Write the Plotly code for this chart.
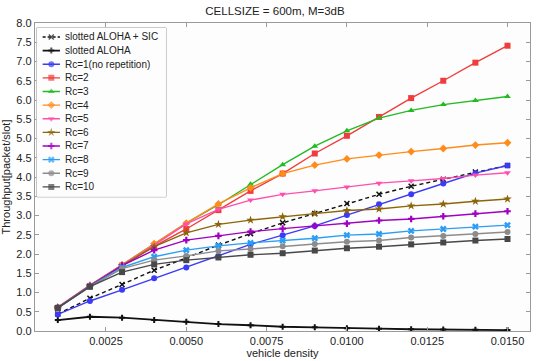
import plotly.graph_objects as go

density = [0.001, 0.002, 0.003, 0.004, 0.005, 0.006, 0.007, 0.008,
           0.009, 0.010, 0.011, 0.012, 0.013, 0.014, 0.015]

sic   = [0.44, 0.85, 1.21, 1.58, 1.90, 2.23, 2.53, 2.81, 3.05, 3.31, 3.55, 3.76, 3.94, 4.13, 4.30]
aloha = [0.285, 0.37, 0.345, 0.285, 0.24, 0.18, 0.15, 0.11, 0.095, 0.07, 0.06, 0.045, 0.04, 0.03, 0.025]
rc1   = [0.43, 0.78, 1.07, 1.37, 1.65, 1.95, 2.25, 2.49, 2.73, 3.01, 3.29, 3.55, 3.83, 4.10, 4.30]
rc2   = [0.60, 1.17, 1.70, 2.20, 2.65, 3.14, 3.64, 4.09, 4.61, 5.07, 5.56, 6.05, 6.50, 6.97, 7.41]
rc3   = [0.61, 1.18, 1.72, 2.25, 2.80, 3.28, 3.81, 4.32, 4.80, 5.20, 5.53, 5.73, 5.88, 5.99, 6.09]
rc4   = [0.61, 1.18, 1.72, 2.27, 2.80, 3.30, 3.72, 4.09, 4.31, 4.47, 4.57, 4.66, 4.74, 4.83, 4.89]
rc5   = [0.62, 1.19, 1.71, 2.23, 2.78, 3.16, 3.40, 3.55, 3.64, 3.74, 3.84, 3.90, 3.96, 4.05, 4.11]
rc6   = [0.61, 1.18, 1.70, 2.19, 2.55, 2.77, 2.88, 2.97, 3.05, 3.13, 3.17, 3.25, 3.30, 3.37, 3.43]
rc7   = [0.60, 1.17, 1.70, 2.10, 2.36, 2.47, 2.58, 2.66, 2.73, 2.79, 2.87, 2.91, 2.98, 3.05, 3.11]
rc8   = [0.60, 1.16, 1.65, 1.93, 2.10, 2.21, 2.29, 2.35, 2.41, 2.49, 2.52, 2.60, 2.65, 2.71, 2.75]
rc9   = [0.60, 1.15, 1.62, 1.84, 1.95, 2.08, 2.13, 2.20, 2.26, 2.32, 2.35, 2.43, 2.47, 2.52, 2.57]
rc10  = [0.60, 1.15, 1.53, 1.73, 1.84, 1.91, 1.98, 2.02, 2.09, 2.15, 2.19, 2.25, 2.30, 2.35, 2.39]

names = ["slotted ALOHA + SIC", "slotted ALOHA", "Rc=1(no repetition)", "Rc=2", "Rc=3",
         "Rc=4", "Rc=5", "Rc=6", "Rc=7", "Rc=8", "Rc=9", "Rc=10"]
series = [sic, aloha, rc1, rc2, rc3, rc4, rc5, rc6, rc7, rc8, rc9, rc10]
colors = ["#111111", "#111111", "#3b3bf5", "#f03c3c", "#22bb22", "#ff8c1a",
          "#ff4fae", "#8b6508", "#a000c0", "#2a9df4", "#8c8c8c", "#484848"]
symbols = ["x-thin-open", "cross", "circle", "square", "triangle-up", "diamond",
           "triangle-down", "star", "cross", "x", "circle", "square"]
msizes = [5, 5, 6, 6, 6, 6, 6, 6.5, 5.5, 6, 6, 6]
dashes = ["4px,3px"] + ["solid"] * 11
widths = [1.4, 1.8] + [1.4] * 10

GRAY = "#9a9a9a"
fig = go.Figure()

for n, s, c, m, sz, d, w in zip(names, series, colors, symbols, msizes, dashes, widths):
    fig.add_trace(go.Scatter(
        x=density, y=s, name=n, mode="lines+markers",
        line=dict(color=c, width=w, dash=d),
        marker=dict(symbol=m, size=sz, color=c,
                    line=dict(color=c, width=1.5 if m == "x-thin-open" else 0)),
        showlegend=False,
    ))

# compact legend box drawn in an inset subplot (one row per series name)
fig.add_shape(type="rect", xref="x2 domain", yref="y2 domain", x0=0, x1=1, y0=0, y1=1,
              fillcolor="white", line=dict(color=GRAY, width=1), layer="below")
for i, (n, c, m, sz, d, w) in enumerate(zip(names, colors, symbols, msizes, dashes, widths)):
    fig.add_trace(go.Scatter(
        x=[0.046, 0.113, 0.18], y=[i, i, i], mode="lines+markers",
        line=dict(color=c, width=w, dash="3px,2px" if d != "solid" else "solid"),
        marker=dict(symbol=m, color=c, size=[0, sz, 0],
                    line=dict(color=c, width=1.5 if m == "x-thin-open" else 0)),
        xaxis="x2", yaxis="y2", showlegend=False, hoverinfo="skip",
    ))
    fig.add_annotation(x=0.2, y=i, xref="x2", yref="y2", text=n, showarrow=False,
                       xanchor="left", yanchor="middle",
                       font=dict(size=10, color="#222"))

axis_common = dict(
    showgrid=False, zeroline=False, showline=True, linecolor=GRAY, linewidth=1.3,
    mirror="ticks", ticks="inside", ticklen=4, tickcolor=GRAY,
    tickfont=dict(size=11, color="#222"), automargin=False,
)

fig.update_layout(
    width=550, height=361,
    margin=dict(l=35, r=20, t=23, b=30),
    paper_bgcolor="white", plot_bgcolor="#fdfdfd",
    font=dict(family="Arial, Liberation Sans, sans-serif", color="#222"),
    title=dict(text="CELLSIZE = 600m, M=3dB", x=0.5, xanchor="center",
               y=1 - 11 / 361, yanchor="middle", font=dict(size=11.5, color="#222")),
    xaxis=dict(range=[0.00029, 0.0157], tickvals=[0.0025, 0.005, 0.0075, 0.01, 0.0125, 0.015],
               tickformat=".4f", title=dict(text="vehicle density", font=dict(size=11), standoff=2),
               **axis_common),
    yaxis=dict(range=[0, 8], dtick=0.5, tick0=0, tickformat=".1f",
               title=dict(text="Throughput[packet/slot]", font=dict(size=11), standoff=4),
               **axis_common),
    xaxis2=dict(domain=[0.0034, 0.2646], range=[0, 1], anchor="y2", visible=False, fixedrange=True),
    yaxis2=dict(domain=[0.4356, 0.9838], range=[11.73, -0.66], anchor="x2", visible=False, fixedrange=True),
    showlegend=False,
)

fig.write_html("out.html")
